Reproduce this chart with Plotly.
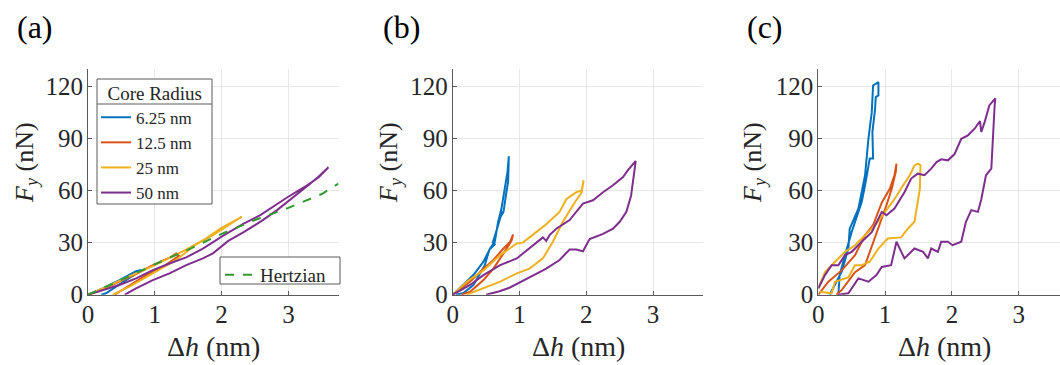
import plotly.graph_objects as go

W, H = 1060, 365

# ---------------- data ----------------
radii = ["6.25 nm", "12.5 nm", "25 nm", "50 nm"]
colors = ["#0072BD", "#D95319", "#EDB120", "#7E2F8E"]

# panel (a)
a_h_625 = [0, 0.22, 0.47, 0.62, 0.72, 0.8, 0.72, 0.57, 0.42, 0.27, 0.2]
a_F_625 = [0, 3.6, 8.4, 11.3, 13.6, 14.2, 12.3, 8.4, 4.6, 0.8, 0]
a_h_125 = [0, 0.25, 0.47, 0.75, 0.97, 1.22, 1.32, 1.36, 1.33, 1.27, 1.12, 0.87, 0.62, 0.47, 0.4]
a_F_125 = [0, 3.5, 7.5, 12.5, 17, 21.3, 23.8, 22.5, 21.5, 20, 16, 11.3, 5.6, 1.7, 0]
a_h_25 = [0, 0.25, 0.5, 0.97, 1.47, 1.75, 2.0, 2.15, 2.3, 2.2, 2.0, 1.87, 1.6, 1.32, 0.97, 0.62, 0.37]
a_F_25 = [0, 4, 8.5, 16.5, 26, 32, 38.5, 41.5, 44.8, 42.5, 37.5, 34.3, 28.5, 20, 12.3, 4.6, 0]
a_h_50 = [0, 0.22, 0.47, 0.72, 0.97, 1.22, 1.47, 1.72, 2.03, 2.33, 2.58, 2.98, 3.28, 3.45, 3.6,
          3.45, 3.33, 3.1, 2.83, 2.6, 2.33, 2.1, 1.87, 1.72, 1.47, 1.22, 0.97, 0.72, 0.55]
a_F_50 = [0, 2.7, 5.6, 9.4, 14.2, 18, 21.5, 26.5, 34.2, 41, 45.8, 56, 63, 67.5, 73.4,
          68, 64, 57, 48.7, 42.5, 36, 31, 23.8, 20.9, 17, 12.3, 8.4, 3.6, 0]
hertz_h = [0, 0.5, 1, 1.5, 2, 2.5, 3, 3.5, 3.75]
hertz_F = [0, 8.5, 17.5, 26, 35, 43, 50, 58, 64]

# panel (b)
b_h_625 = [0, 0.16, 0.31, 0.46, 0.56, 0.63, 0.68, 0.73, 0.78, 0.82, 0.84,
           0.83, 0.8, 0.76, 0.72, 0.74, 0.68, 0.64, 0.6, 0.63, 0.55, 0.48, 0.31, 0.16, 0.05]
b_F_625 = [0, 5.6, 11.3, 19, 26.6, 30.5, 42, 49.6, 61, 70.7, 79.7,
           65, 58, 47.7, 45, 48, 40, 35, 30, 29, 26, 17, 5.6, 1, 0]
b_h_125 = [0, 0.26, 0.46, 0.61, 0.76, 0.86, 0.905, 0.88, 0.76, 0.61, 0.46, 0.26, 0.13]
b_F_125 = [0, 7.5, 15, 20, 26.6, 30.5, 34.7, 31, 23.8, 15, 8.4, 1.7, 0]
b_h_25 = [0, 0.21, 0.46, 0.71, 0.96, 1.05, 1.15, 1.4, 1.6, 1.7, 1.85, 1.93, 1.96,
          1.93, 1.8, 1.65, 1.5, 1.35, 1.15, 0.96, 0.71, 0.46, 0.21]
b_F_25 = [0, 7.5, 14, 22.8, 29.5, 30, 33, 40.6, 47.7, 55, 59, 60, 65.9,
          59, 51.5, 42, 30.5, 20.9, 15, 12.3, 7.5, 3.6, 0]
b_h_50 = [0, 0.26, 0.46, 0.71, 0.96, 1.15, 1.35, 1.4, 1.45, 1.55, 1.75, 1.95, 2.1, 2.25, 2.4, 2.55, 2.62, 2.74,
          2.67, 2.6, 2.5, 2.4, 2.25, 2.05, 1.95, 1.85, 1.75, 1.6, 1.4, 1.2, 1.0, 0.85, 0.7, 0.5]
b_F_50 = [0, 5.6, 11.3, 17, 20.9, 26.6, 33, 31, 34.3, 38, 43, 52.5, 54.4, 59, 63, 67.8, 71.6, 77,
          57, 47.7, 42, 38, 35, 32, 25, 26, 26, 20, 15, 11, 7, 4, 2, 0]

# panel (c)
c_h_625 = [0.17, 0.35, 0.45, 0.47, 0.6, 0.7, 0.75, 0.8, 0.82, 0.9,
           0.9, 0.86, 0.85, 0.81, 0.82, 0.77, 0.7, 0.65, 0.6, 0.5, 0.4, 0.32, 0.3]
c_F_625 = [0, 13.2, 26.6, 38, 49.6, 68.8, 89.8, 105, 120.5, 122.4,
           114.8, 113.8, 107, 93.7, 78.4, 78.4, 63, 53.4, 47.7, 36.2, 22.8, 11.3, 0]
c_h_125 = [0, 0.15, 0.35, 0.55, 0.7, 0.82, 0.95, 1.07, 1.14, 1.17,
           1.16, 1.1, 1.02, 0.95, 0.87, 0.77, 0.7, 0.55, 0.45, 0.35, 0.27]
c_F_125 = [0, 7.5, 14, 22.8, 34.3, 40, 53, 61, 68.8, 75.5,
           70.7, 61, 51.5, 44, 34.3, 24.7, 17, 13, 7.5, 2.7, 0]
c_h_25 = [0, 0.1, 0.25, 0.4, 0.55, 0.7, 0.85, 1.0, 1.14, 1.27, 1.37, 1.44, 1.49,
          1.53, 1.52, 1.44, 1.34, 1.24, 1.04, 0.9, 0.77, 0.65, 0.55, 0.45, 0.25, 0.2, 0.02]
c_F_25 = [3.6, 13, 19, 24.7, 28.5, 34.3, 40, 47.7, 55, 63, 68.8, 74.5, 75.5,
          74.5, 61, 42, 38, 33, 32.4, 26.6, 19, 17, 17, 10, 7.5, 0.8, 1.7]
c_h_50 = [0, 0.1, 0.2, 0.3, 0.4, 0.5, 0.65, 0.8, 0.95, 1.02, 1.14, 1.29, 1.39, 1.49, 1.59, 1.69, 1.77, 1.84,
          1.94, 2.04, 2.14, 2.24, 2.34, 2.42, 2.44, 2.49, 2.56, 2.65,
          2.64, 2.59, 2.51, 2.44, 2.39, 2.29, 2.21, 2.14, 2.01, 1.94, 1.84, 1.79, 1.69, 1.64, 1.57,
          1.44, 1.29, 1.17, 1.09, 0.95, 0.87, 0.75, 0.6, 0.5, 0.45, 0.3]
c_F_50 = [3.6, 11.3, 17, 17, 22.8, 24.7, 30.5, 36, 47.7, 45.8, 49.6, 59, 66.9, 69.7, 68.8, 72.6, 76.4, 78,
          77.4, 81, 89.8, 91.8, 95.6, 100, 93.7, 99.4, 109, 113,
          109, 72.6, 68.8, 55, 47.7, 48.7, 42, 30.5, 28.5, 30.5, 30.5, 24.7, 26.6, 20.9, 24.7,
          26.6, 20.9, 30.5, 17, 16, 11.3, 7.5, 9.4, 3.6, 0.8, 0]

x_ticks = [0, 1, 2, 3]
y_ticks = [0, 30, 60, 90, 120]
panel_labels = ["(a)", "(b)", "(c)"]
legend_title = "Core Radius"
hertz_name = "Hertzian"
x_title = "Δ<i>h</i> (nm)"
y_title = "<i>F</i><sub><i>y</i></sub> (nN)"

panels = [
    [(a_h_625, a_F_625), (a_h_125, a_F_125), (a_h_25, a_F_25), (a_h_50, a_F_50)],
    [(b_h_625, b_F_625), (b_h_125, b_F_125), (b_h_25, b_F_25), (b_h_50, b_F_50)],
    [(c_h_625, c_F_625), (c_h_125, c_F_125), (c_h_25, c_F_25), (c_h_50, c_F_50)],
]

# ---------------- layout geometry (pixels) ----------------
FONT = "Liberation Serif"
TXT = "#262626"
BOX = "#5a5a5a"
px_per_nm = 66.8
x0_px = [88.0, 452.7, 818.3]
plot_top, plot_bot = 69.0, 294.7
xmax_full = 3.75

fig = go.Figure()

for p, series in enumerate(panels):
    suffix = "" if p == 0 else str(p + 1)
    for i, (h, F) in enumerate(series):
        fig.add_trace(go.Scatter(
            x=h, y=F, mode="lines", name=radii[i],
            line=dict(color=colors[i], width=2),
            xaxis="x" + suffix, yaxis="y" + suffix,
            showlegend=(p == 0), legend="legend",
        ))
    if p == 0:
        fig.add_trace(go.Scatter(
            x=hertz_h, y=hertz_F, mode="lines", name=hertz_name,
            line=dict(color="#339933", width=2, dash="dash"),
            xaxis="x", yaxis="y", legend="legend2",
        ))

axis_common = dict(
    showline=True, linecolor=BOX, linewidth=1, mirror=False,
    showgrid=True, gridcolor="#e8e8e8", gridwidth=1, zeroline=False,
    ticks="inside", ticklen=4, tickcolor=BOX, automargin=False,
    tickfont=dict(family=FONT, size=25, color=TXT),
)

y_dom = [1 - plot_bot / H, 1 - plot_top / H]
layout = dict(
    width=W, height=H, margin=dict(l=0, r=0, t=0, b=0, pad=0, autoexpand=False),
    paper_bgcolor="white", plot_bgcolor="white",
    font=dict(family=FONT, color=TXT),
)
for p in range(3):
    suffix = "" if p == 0 else str(p + 1)
    left = x0_px[p]
    right = min(left + xmax_full * px_per_nm, W)
    xr = (right - left) / px_per_nm
    layout["xaxis" + suffix] = dict(
        axis_common, domain=[left / W, right / W], range=[0, xr],
        tickvals=x_ticks, anchor="y" + suffix, ticklabelstandoff=-3,
    )
    layout["yaxis" + suffix] = dict(
        axis_common, domain=y_dom, range=[0, 130],
        tickvals=y_ticks, anchor="x" + suffix, ticklabelstandoff=-1,
    )

# legend boxes drawn as shapes (so the title separator can sit on top)
leg1 = (97, 79, 212, 204)     # x0, y0, x1, y1 in px
leg1_sep = 104
leg2 = (220, 257, 340, 284)

layout["legend"] = dict(
    title=dict(text="\u00a0\u00a0" + legend_title, side="top center",
               font=dict(family=FONT, size=19, color=TXT)),
    x=(leg1[0] - 1) / W, y=1 - (leg1[1] - 4) / H, xanchor="left", yanchor="top",
    bgcolor="rgba(0,0,0,0)", borderwidth=0,
    font=dict(family=FONT, size=17, color=TXT), itemwidth=30, tracegroupgap=0,
)
layout["legend2"] = dict(
    x=leg2[0] / W, y=1 - (leg2[1] - 1) / H, xanchor="left", yanchor="top",
    bgcolor="rgba(0,0,0,0)", borderwidth=0,
    font=dict(family=FONT, size=19, color=TXT), itemwidth=30,
)

fig.update_layout(**layout)

for (bx0, by0, bx1, by1) in (leg1, leg2):
    fig.add_shape(type="rect", xref="paper", yref="paper", layer="above",
                  x0=bx0 / W, x1=bx1 / W, y0=1 - by1 / H, y1=1 - by0 / H,
                  fillcolor="white", line=dict(color=BOX, width=1))
fig.add_shape(type="line", xref="paper", yref="paper", layer="above",
              x0=leg1[0] / W, x1=leg1[2] / W, y0=1 - leg1_sep / H, y1=1 - leg1_sep / H,
              line=dict(color=BOX, width=1))

annotations = []
label_x = [35, 401, 765]
ytitle_x = [26, 390, 754]
xtitle_x = [213, 578, 944]
for p in range(3):
    annotations.append(dict(text=panel_labels[p], x=label_x[p] / W, y=1 - 27 / H, xref="paper", yref="paper",
                            xanchor="center", yanchor="middle",
                            showarrow=False, font=dict(family=FONT, size=32, color="black")))
    annotations.append(dict(text=y_title, x=ytitle_x[p] / W, y=1 - 163 / H, xref="paper", yref="paper",
                            xanchor="center", yanchor="middle",
                            textangle=-90, showarrow=False, font=dict(family=FONT, size=26, color=TXT)))
    annotations.append(dict(text=x_title, x=xtitle_x[p] / W, y=1 - 346 / H, xref="paper", yref="paper",
                            xanchor="center", yanchor="middle",
                            showarrow=False, font=dict(family=FONT, size=28, color=TXT)))
fig.update_layout(annotations=annotations)

fig.write_html("out.html")
